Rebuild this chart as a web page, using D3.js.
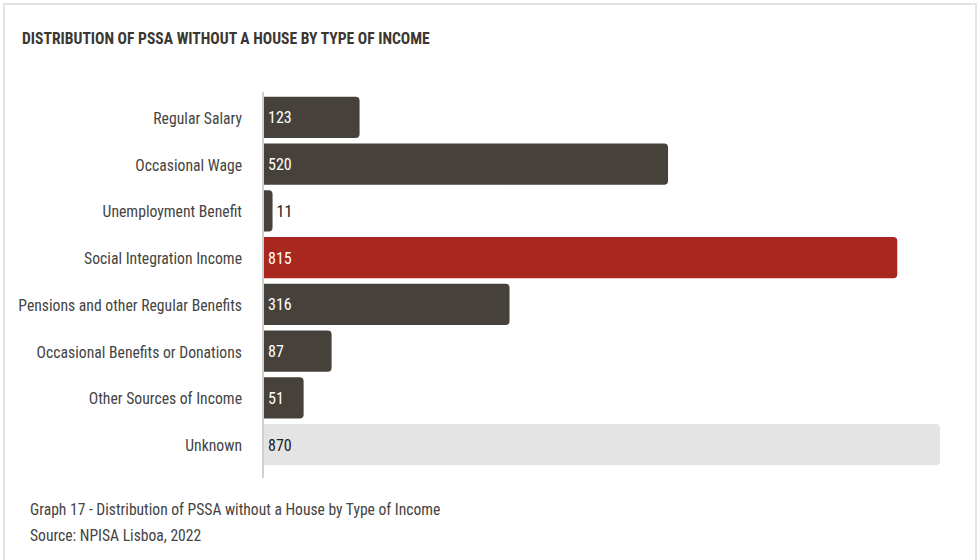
<!DOCTYPE html>
<html>
<head>
<meta charset="utf-8">
<script src="https://cdn.jsdelivr.net/npm/d3@7"></script>
<style>
  html, body { margin: 0; padding: 0; background: #fff; }
  svg { display: block; font-family: "Roboto Condensed", "Liberation Sans Narrow", "DejaVu Sans Condensed", sans-serif; }
</style>
</head>
<body>
<svg id="chart" width="980" height="560"></svg>
<script>
// Income categories and number of people in each
const categories = [
  "Regular Salary",
  "Occasional Wage",
  "Unemployment Benefit",
  "Social Integration Income",
  "Pensions and other Regular Benefits",
  "Occasional Benefits or Donations",
  "Other Sources of Income",
  "Unknown"
];
const values = [123, 520, 11, 815, 316, 87, 51, 870];
const highlight = "Social Integration Income";
const unknownCategory = "Unknown";

const titleText = "DISTRIBUTION OF PSSA WITHOUT A HOUSE BY TYPE OF INCOME";
const captionLines = [
  "Graph 17 - Distribution of PSSA without a House by Type of Income",
  "Source: NPISA Lisboa, 2022"
];

const svg = d3.select("#chart");
const W = 980, H = 560;

// panel frame
svg.append("rect")
  .attr("x", 4).attr("y", 4).attr("width", W - 8).attr("height", H + 10)
  .attr("fill", "#fff").attr("stroke", "#e3e3e3").attr("stroke-width", 2);

svg.append("text")
  .attr("x", 22).attr("y", 44)
  .attr("font-size", 15.6).attr("font-weight", "bold").attr("fill", "#3b3732")
  .text(titleText);

const data = categories.map((c, i) => ({ cat: c, val: values[i] }));

const x = d3.scaleLinear().domain([0, d3.max(values)]).range([264, 940]);
const y = d3.scaleBand().domain(categories).range([94, 468]).paddingInner(0.12).paddingOuter(0.06);

const color = d => d.cat === highlight ? "#a8271e" : d.cat === unknownCategory ? "#e4e4e4" : "#46423b";

// bar with square left end and rounded right end
function barPath(x0, x1, y0, h, r) {
  const rr = Math.min(r, (x1 - x0) / 2, h / 2);
  return `M${x0},${y0}H${x1 - rr}Q${x1},${y0} ${x1},${y0 + rr}V${y0 + h - rr}Q${x1},${y0 + h} ${x1 - rr},${y0 + h}H${x0}Z`;
}

svg.append("g").selectAll("path")
  .data(data).join("path")
  .attr("d", d => barPath(x(0), x(d.val), y(d.cat), y.bandwidth(), 4))
  .attr("fill", color);

// category axis
const axis = svg.append("g")
  .attr("transform", `translate(${x(0) - 1},0)`)
  .call(d3.axisLeft(y).tickSize(0).tickPadding(21))
  .attr("font-family", null).attr("font-size", null);
axis.select(".domain").attr("stroke", "#cfcfcf").attr("stroke-width", 2)
  .attr("d", `M0,92V478`);
axis.selectAll("text")
  .attr("font-size", 15.7).attr("fill", "#444").attr("dy", "0.42em");

// value labels
svg.append("g").selectAll("text")
  .data(data).join("text")
  .attr("x", d => (x(d.val) - x(0) < 30 ? x(d.val) + 4 : x(0) + 4))
  .attr("y", d => y(d.cat) + y.bandwidth() / 2)
  .attr("dy", "0.38em")
  .attr("font-size", 16)
  .attr("fill", d => (x(d.val) - x(0) < 30 || d.cat === unknownCategory) ? "#222" : "#fff")
  .text(d => d3.format("d")(d.val));

svg.append("g").selectAll("text")
  .data(captionLines).join("text")
  .attr("x", 30).attr("y", (d, i) => 515 + i * 26)
  .attr("font-size", 15.6).attr("fill", "#444")
  .text(d => d);
</script>
</body>
</html>
